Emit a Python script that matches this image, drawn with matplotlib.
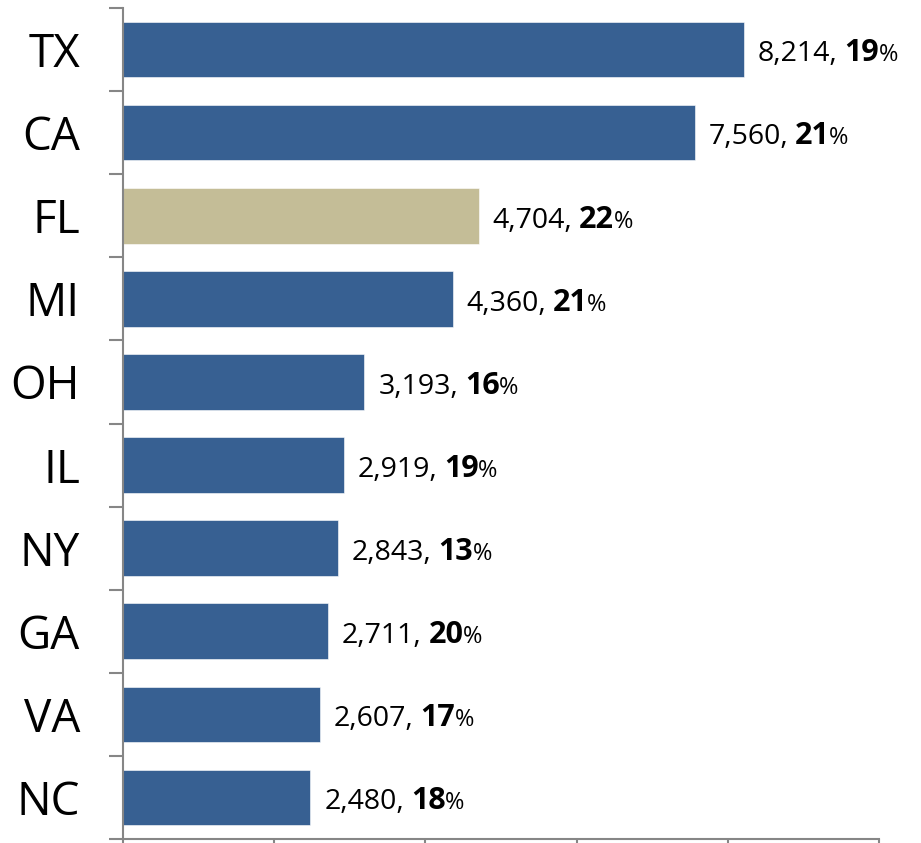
import matplotlib
matplotlib.use('Agg')
import matplotlib.pyplot as plt

states = ['TX', 'CA', 'FL', 'MI', 'OH', 'IL', 'NY', 'GA', 'VA', 'NC']
counts = [8214, 7560, 4704, 4360, 3193, 2919, 2843, 2711, 2607, 2480]
shares = [19, 21, 22, 21, 16, 19, 13, 20, 17, 18]
highlight = 'FL'
xticks = [0, 2000, 4000, 6000, 8000, 10000]

BLUE = '#376092'
TAN = '#C4BD97'
GRAY = '#868686'

plt.rcParams['font.family'] = ['Open Sans', 'DejaVu Sans']

fig = plt.figure(figsize=(9.21, 8.43), dpi=100)
ax = fig.add_axes([123 / 921, 4 / 843, (879 - 123) / 921, (839 - 8) / 843])

ypos = list(range(len(states)))
colors = [TAN if s == highlight else BLUE for s in states]
ax.barh(ypos, counts, height=0.67, color=colors, edgecolor='white', linewidth=0.4)

ax.set_xlim(xticks[0], xticks[-1])
ax.set_ylim(len(states) - 0.5, -0.5)

ax.set_yticks(ypos, states)
ax.tick_params(axis='y', which='major', length=0, pad=31, labelsize=33)
ax.set_yticks([i - 0.5 for i in range(len(states) + 1)], minor=True)
ax.tick_params(axis='y', which='minor', length=10, width=1.5, color=GRAY)
ax.set_xticks(xticks)
ax.tick_params(axis='x', length=8, width=1.5, color=GRAY, labelbottom=False)

for side in ['top', 'right']:
    ax.spines[side].set_visible(False)
for side in ['left', 'bottom']:
    ax.spines[side].set_color(GRAY)
    ax.spines[side].set_linewidth(1.5)

fig.canvas.draw()
r = fig.canvas.get_renderer()
k = 72 / fig.dpi
for i, (c, s) in enumerate(zip(counts, shares)):
    x0 = 10
    dy = -8.5
    t1 = ax.annotate(f'{c:,},', xy=(c, i), xytext=(x0, dy), textcoords='offset points',
                     va='baseline', ha='left', fontsize=20.5, color='black')
    w1 = t1.get_window_extent(r).width * k
    x1 = x0 + w1 + 5
    t2 = ax.annotate(f'{s}', xy=(c, i), xytext=(x1, dy), textcoords='offset points',
                     va='baseline', ha='left', fontsize=22, fontweight='bold', color='black')
    w2 = t2.get_window_extent(r).width * k
    x2 = x1 + w2 - 0.5
    ax.annotate('%', xy=(c, i), xytext=(x2, dy), textcoords='offset points',
                va='baseline', ha='left', fontsize=17, color='black')

fig.savefig('out.png', dpi=100)
